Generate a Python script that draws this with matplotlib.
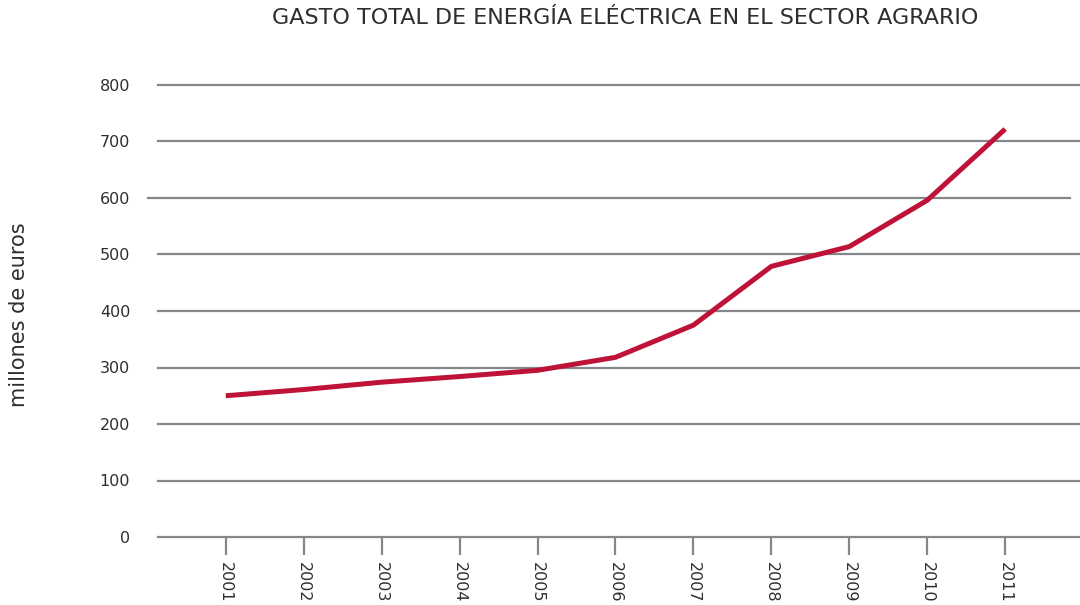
import matplotlib
matplotlib.use("Agg")
import matplotlib.pyplot as plt

years = [2001, 2002, 2003, 2004, 2005, 2006, 2007, 2008, 2009, 2010, 2011]
gasto = [250, 261, 274, 284, 295, 318, 375, 479, 514, 596, 722]
y_ticks = [0, 100, 200, 300, 400, 500, 600, 700, 800]

title = "GASTO TOTAL DE ENERGÍA ELÉCTRICA EN EL SECTOR AGRARIO"
ylabel = "millones de euros"

GRID = "#85868c"
TEXT = "#2e2e2e"
LINE = "#bf1238"

plt.rcParams["font.family"] = ["DejaVu Sans"]

fig = plt.figure(figsize=(10.8, 6.05), dpi=100)
ax = fig.add_axes([158 / 1080, 1 - 537 / 605, 1 - 158 / 1080, (537 - 85) / 605])

ax.set_ylim(0, 800)
ax.set_xlim(2000.13, 2011.96)

for s in ax.spines.values():
    s.set_visible(False)

# horizontal rules; the 600 one sits a bit to the left in the original
for v in y_ticks:
    if v == 600:
        ax.axhline(v, xmin=-0.011, xmax=0.989, color=GRID, lw=1.6, clip_on=False, zorder=1)
    else:
        ax.axhline(v, xmin=0, xmax=1, color=GRID, lw=1.6, clip_on=False, zorder=1)

ax.plot(years, gasto, color=LINE, lw=3.6, solid_capstyle="butt", zorder=3)

ax.set_yticks(y_ticks)
ax.set_yticklabels([str(v) for v in y_ticks])
ax.tick_params(axis="y", length=0, pad=20, labelsize=11.5, labelcolor=TEXT)

ax.set_xticks(years)
ax.set_xticklabels([str(y) for y in years], rotation=270, va="top", ha="center")
ax.tick_params(axis="x", length=13, width=1.6, color=GRID, pad=5,
               labelsize=11.5, labelcolor=TEXT)

fig.text(0.018, 1 - 315 / 605, ylabel, rotation=90, ha="center", va="center",
         fontsize=15, color=TEXT)
fig.text(625 / 1080, 1 - 18 / 605, title, ha="center", va="center",
         fontsize=16, color=TEXT)

fig.savefig("out.png", dpi=100, facecolor="white")
